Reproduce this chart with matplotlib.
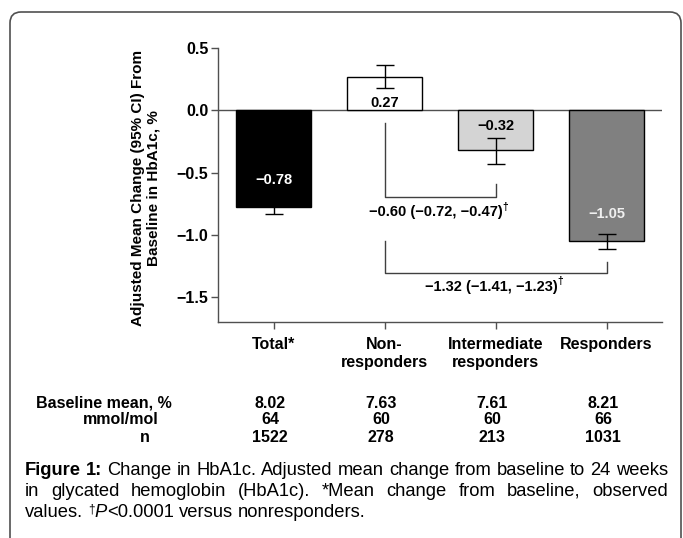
import matplotlib
matplotlib.use('Agg')
import matplotlib.pyplot as plt
from matplotlib import transforms
from matplotlib.patches import FancyBboxPatch

plt.rcParams['font.family'] = ['Liberation Sans', 'DejaVu Sans']

groups = ['Total*', 'Non-\nresponders', 'Intermediate\nresponders', 'Responders']
change = [-0.78, 0.27, -0.32, -1.05]
ci_low = [-0.83, 0.18, -0.43, -1.11]
ci_high = [-0.73, 0.36, -0.22, -0.99]
bar_colors = ['black', 'white', '#d4d4d4', '#808080']
label_colors = ['white', 'black', 'black', '#f0f0f0']
label_y = [-0.56, 0.06, -0.13, -0.83]

# differences vs nonresponders
diff_mean = [-0.60, -1.32]
diff_lo = [-0.72, -1.41]
diff_hi = [-0.47, -1.23]
diff_pairs = [(1, 2), (1, 3)]

row_labels = ['Baseline mean, %', 'mmol/mol', 'n']
baseline_pct = ['8.02', '7.63', '7.61', '8.21']
baseline_mmol = ['64', '60', '60', '66']
n_pts = ['1522', '278', '213', '1031']


def fmt(v):
    return '{:.2f}'.format(v).replace('-', '\u2212')


W, H = 683, 538
fig = plt.figure(figsize=(W / 100, H / 100), dpi=100)

# frame round the whole figure
frame = FancyBboxPatch((10, -30), 671, H - 12 + 30,
                       boxstyle='round,pad=0,rounding_size=11',
                       transform=transforms.IdentityTransform(),
                       fc='none', ec='#505050', lw=1.2)
fig.patches.append(frame)

ax = fig.add_axes([218 / W, 1 - 322 / H, 444 / W, 274 / H])
x = list(range(len(groups)))
ax.bar(x, change, width=0.67, color=bar_colors, edgecolor='black',
       linewidth=1, zorder=2)
yerr = [[c - lo for c, lo in zip(change, ci_low)],
        [hi - c for c, hi in zip(change, ci_high)]]
ax.errorbar(x, change, yerr=yerr, fmt='none', ecolor='black',
            elinewidth=1, capsize=6.8, capthick=1, zorder=3)
ax.axhline(0, color='#505050', lw=1, zorder=1)

for i, v in enumerate(change):
    ax.text(i, label_y[i], fmt(v), ha='center', va='center',
            fontsize=10.5, fontweight='bold', color=label_colors[i], zorder=4)

# brackets: (left leg top, right leg top, bar level, text level)
bracket_pos = [(-0.10, -0.59, -0.70, -0.82), (-1.05, -1.22, -1.31, -1.42)]
for (a, b), (ya, yb, yh, yt), m, lo, hi in zip(diff_pairs, bracket_pos,
                                               diff_mean, diff_lo, diff_hi):
    ax.plot([a, a, b, b], [ya, yh, yh, yb], color='#404040', lw=1)
    t = ax.text((a + b) / 2 - 0.04, yt,
                '{} ({}, {})'.format(fmt(m), fmt(lo), fmt(hi)),
                ha='center', va='center', fontsize=10.5, fontweight='bold')
    ax.annotate('\u2020', xy=(1, 0.55), xycoords=t, ha='left', va='bottom',
                fontsize=7.5, fontweight='bold')

ax.set_xlim(-0.5, 3.5)
ax.set_ylim(-1.70, 0.5)
ax.set_yticks([0.5, 0.0, -0.5, -1.0, -1.5])
ax.set_yticklabels([fmt(v)[:-1] for v in [0.5, 0.0, -0.5, -1.0, -1.5]])
ax.set_xticks(x)
ax.set_xticklabels(groups, fontsize=11.5, fontweight='bold', linespacing=1.2)
for lab in ax.get_yticklabels():
    lab.set_fontweight('bold')
    lab.set_fontsize(11.5)
ax.tick_params(axis='y', length=5, width=1, color='#505050', pad=2)
ax.tick_params(axis='x', length=5, width=1, color='#505050', pad=6)
for s in ['top', 'right']:
    ax.spines[s].set_visible(False)
for s in ['left', 'bottom']:
    ax.spines[s].set_color('#505050')
    ax.spines[s].set_linewidth(1)
ax.spines['left'].set_bounds(-1.70, 0.5)

ax.set_ylabel('Adjusted Mean Change (95% CI) From\nBaseline in HbA1c, %',
              fontsize=11, fontweight='bold', linespacing=1.15)
ax.yaxis.set_label_coords(-0.13, 0.49)

# baseline table under the axis
tb = transforms.blended_transform_factory(ax.transData, fig.transFigure)
rows = [baseline_pct, baseline_mmol, n_pts]
row_y = [403, 420, 437]
row_x = [172, 159, 150]
for lab, vals, yp, xp in zip(row_labels, rows, row_y, row_x):
    fig.text(xp / W, 1 - yp / H, lab, ha='right', va='center',
             fontsize=11.5, fontweight='bold')
    for i, v in enumerate(vals):
        ax.text(i - 0.03, 1 - yp / H, v, transform=tb, ha='center',
                va='center', fontsize=11.5, fontweight='bold')

# caption, justified like the journal layout
cap_size = 13.2
renderer = fig.canvas.get_renderer()


def seg_width(text, props):
    t = fig.text(0, 0, text, **props)
    w = t.get_window_extent(renderer).width
    t.remove()
    return w


normal = dict(fontsize=cap_size)
bold = dict(fontsize=cap_size, fontweight='bold')
ital = dict(fontsize=cap_size, fontstyle='italic')
sup = dict(fontsize=8.5)

line1 = [[('Figure', bold)], [('1:', bold)]] + \
    [[(w, normal)] for w in 'Change in HbA1c. Adjusted mean change from baseline to 24 weeks'.split()]
line2 = [[(w, normal)] for w in 'in glycated hemoglobin (HbA1c). *Mean change from baseline, observed'.split()]
line3 = [[('values.', normal)], [('\u2020', sup), ('P', ital), ('<0.0001', normal)],
         [('versus', normal)], [('nonresponders.', normal)]]

space = seg_width('a a', normal) - seg_width('aa', normal)
x0, x1 = 25, 668


def draw_line(words, base, justify):
    widths = [[seg_width(s, p) for s, p in word] for word in words]
    total = sum(sum(w) for w in widths)
    gap = (x1 - x0 - total) / (len(words) - 1) if justify else space
    xp = x0
    for word, ws in zip(words, widths):
        for (s, p), w in zip(word, ws):
            dy = 5 if p is sup else 0
            fig.text(xp / W, 1 - (base - dy) / H, s, ha='left',
                     va='baseline', color='black', **p)
            xp += w
        xp += gap


draw_line(line1, 475, True)
draw_line(line2, 496, True)
draw_line(line3, 517, False)

fig.savefig('out.png', dpi=100)
